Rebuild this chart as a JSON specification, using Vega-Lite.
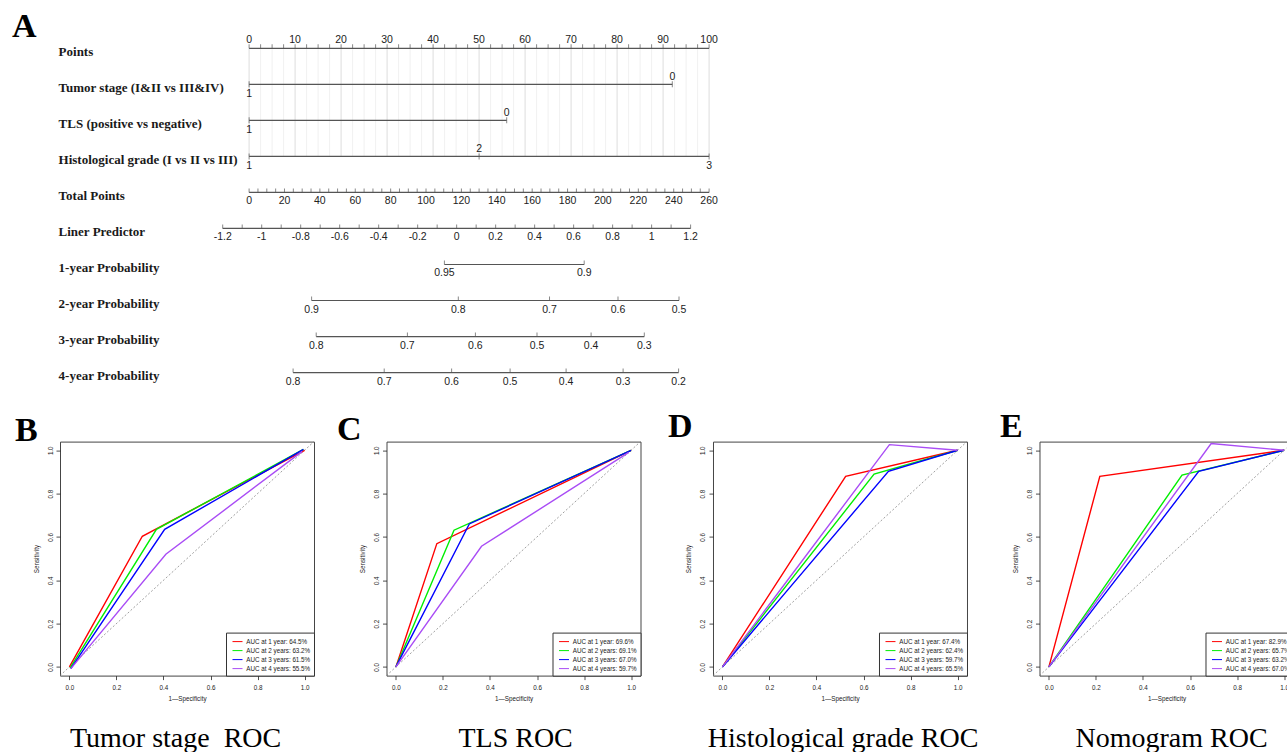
{
  "$schema": "https://vega.github.io/schema/vega-lite/v6.json",
  "background": "white",
  "padding": {"left": 12, "top": 9.3, "right": 0, "bottom": 0},
  "bounds": "flush",
  "spacing": 50.3,
  "config": {"font": "Liberation Sans", "view": {"stroke": null}},
  "resolve": {"scale": {"x": "independent", "y": "independent", "color": "independent"}},
  "datasets": {
    "pointsTicks": [
      {"v": 0, "label": "0"}, {"v": 2.5, "label": ""}, {"v": 5, "label": ""}, {"v": 7.5, "label": ""},
      {"v": 10, "label": "10"}, {"v": 12.5, "label": ""}, {"v": 15, "label": ""}, {"v": 17.5, "label": ""},
      {"v": 20, "label": "20"}, {"v": 22.5, "label": ""}, {"v": 25, "label": ""}, {"v": 27.5, "label": ""},
      {"v": 30, "label": "30"}, {"v": 32.5, "label": ""}, {"v": 35, "label": ""}, {"v": 37.5, "label": ""},
      {"v": 40, "label": "40"}, {"v": 42.5, "label": ""}, {"v": 45, "label": ""}, {"v": 47.5, "label": ""},
      {"v": 50, "label": "50"}, {"v": 52.5, "label": ""}, {"v": 55, "label": ""}, {"v": 57.5, "label": ""},
      {"v": 60, "label": "60"}, {"v": 62.5, "label": ""}, {"v": 65, "label": ""}, {"v": 67.5, "label": ""},
      {"v": 70, "label": "70"}, {"v": 72.5, "label": ""}, {"v": 75, "label": ""}, {"v": 77.5, "label": ""},
      {"v": 80, "label": "80"}, {"v": 82.5, "label": ""}, {"v": 85, "label": ""}, {"v": 87.5, "label": ""},
      {"v": 90, "label": "90"}, {"v": 92.5, "label": ""}, {"v": 95, "label": ""}, {"v": 97.5, "label": ""},
      {"v": 100, "label": "100"}
    ],
    "totalTicks": [
      {"v": 0, "label": "0"}, {"v": 5, "label": ""}, {"v": 10, "label": ""}, {"v": 15, "label": ""},
      {"v": 20, "label": "20"}, {"v": 25, "label": ""}, {"v": 30, "label": ""}, {"v": 35, "label": ""},
      {"v": 40, "label": "40"}, {"v": 45, "label": ""}, {"v": 50, "label": ""}, {"v": 55, "label": ""},
      {"v": 60, "label": "60"}, {"v": 65, "label": ""}, {"v": 70, "label": ""}, {"v": 75, "label": ""},
      {"v": 80, "label": "80"}, {"v": 85, "label": ""}, {"v": 90, "label": ""}, {"v": 95, "label": ""},
      {"v": 100, "label": "100"}, {"v": 105, "label": ""}, {"v": 110, "label": ""}, {"v": 115, "label": ""},
      {"v": 120, "label": "120"}, {"v": 125, "label": ""}, {"v": 130, "label": ""}, {"v": 135, "label": ""},
      {"v": 140, "label": "140"}, {"v": 145, "label": ""}, {"v": 150, "label": ""}, {"v": 155, "label": ""},
      {"v": 160, "label": "160"}, {"v": 165, "label": ""}, {"v": 170, "label": ""}, {"v": 175, "label": ""},
      {"v": 180, "label": "180"}, {"v": 185, "label": ""}, {"v": 190, "label": ""}, {"v": 195, "label": ""},
      {"v": 200, "label": "200"}, {"v": 205, "label": ""}, {"v": 210, "label": ""}, {"v": 215, "label": ""},
      {"v": 220, "label": "220"}, {"v": 225, "label": ""}, {"v": 230, "label": ""}, {"v": 235, "label": ""},
      {"v": 240, "label": "240"}, {"v": 245, "label": ""}, {"v": 250, "label": ""}, {"v": 255, "label": ""},
      {"v": 260, "label": "260"}
    ],
    "lpTicks": [
      {"v": -1.2, "label": "-1.2"}, {"v": -1.1, "label": ""}, {"v": -1.0, "label": "-1"}, {"v": -0.9, "label": ""},
      {"v": -0.8, "label": "-0.8"}, {"v": -0.7, "label": ""}, {"v": -0.6, "label": "-0.6"}, {"v": -0.5, "label": ""},
      {"v": -0.4, "label": "-0.4"}, {"v": -0.3, "label": ""}, {"v": -0.2, "label": "-0.2"}, {"v": -0.1, "label": ""},
      {"v": 0, "label": "0"}, {"v": 0.1, "label": ""}, {"v": 0.2, "label": "0.2"}, {"v": 0.3, "label": ""},
      {"v": 0.4, "label": "0.4"}, {"v": 0.5, "label": ""}, {"v": 0.6, "label": "0.6"}, {"v": 0.7, "label": ""},
      {"v": 0.8, "label": "0.8"}, {"v": 0.9, "label": ""}, {"v": 1.0, "label": "1"}, {"v": 1.1, "label": ""},
      {"v": 1.2, "label": "1.2"}
    ],
    "probTicks": [
      {"row": "1-year Probability", "v": -0.0628, "label": "0.95"},
      {"row": "1-year Probability", "v": 0.6542, "label": "0.9"},
      {"row": "2-year Probability", "v": -0.744, "label": "0.9"},
      {"row": "2-year Probability", "v": 0.0085, "label": "0.8"},
      {"row": "2-year Probability", "v": 0.4763, "label": "0.7"},
      {"row": "2-year Probability", "v": 0.8276, "label": "0.6"},
      {"row": "2-year Probability", "v": 1.1405, "label": "0.5"},
      {"row": "3-year Probability", "v": -0.7204, "label": "0.8"},
      {"row": "3-year Probability", "v": -0.2526, "label": "0.7"},
      {"row": "3-year Probability", "v": 0.0962, "label": "0.6"},
      {"row": "3-year Probability", "v": 0.4121, "label": "0.5"},
      {"row": "3-year Probability", "v": 0.6896, "label": "0.4"},
      {"row": "3-year Probability", "v": 0.9625, "label": "0.3"},
      {"row": "4-year Probability", "v": -0.8389, "label": "0.8"},
      {"row": "4-year Probability", "v": -0.3716, "label": "0.7"},
      {"row": "4-year Probability", "v": -0.0258, "label": "0.6"},
      {"row": "4-year Probability", "v": 0.2742, "label": "0.5"},
      {"row": "4-year Probability", "v": 0.5614, "label": "0.4"},
      {"row": "4-year Probability", "v": 0.8538, "label": "0.3"},
      {"row": "4-year Probability", "v": 1.1384, "label": "0.2"}
    ],
    "levels": [
      {"row": "Tumor stage (I&II vs III&IV)", "v": 92, "label": "0", "side": "above"},
      {"row": "Tumor stage (I&II vs III&IV)", "v": 0, "label": "1", "side": "below"},
      {"row": "TLS (positive vs negative)", "v": 56, "label": "0", "side": "above"},
      {"row": "TLS (positive vs negative)", "v": 0, "label": "1", "side": "below"},
      {"row": "Histological grade (I vs II vs III)", "v": 0, "label": "1", "side": "below"},
      {"row": "Histological grade (I vs II vs III)", "v": 50, "label": "2", "side": "above"},
      {"row": "Histological grade (I vs II vs III)", "v": 100, "label": "3", "side": "below"}
    ],
    "nomoLines": [
      {"row": "Points", "unit": "points", "from": 0, "to": 100},
      {"row": "Tumor stage (I&II vs III&IV)", "unit": "points", "from": 0, "to": 92},
      {"row": "TLS (positive vs negative)", "unit": "points", "from": 0, "to": 56},
      {"row": "Histological grade (I vs II vs III)", "unit": "points", "from": 0, "to": 100},
      {"row": "Total Points", "unit": "total", "from": 0, "to": 260},
      {"row": "Liner Predictor", "unit": "lp", "from": -1.2, "to": 1.2},
      {"row": "1-year Probability", "unit": "lp", "from": -0.0628, "to": 0.6542},
      {"row": "2-year Probability", "unit": "lp", "from": -0.744, "to": 1.1405},
      {"row": "3-year Probability", "unit": "lp", "from": -0.7204, "to": 0.9625},
      {"row": "4-year Probability", "unit": "lp", "from": -0.8389, "to": 1.1384}
    ],
    "roc": [
      {"panel": "B", "series": "AUC at 1 year: 64.5%", "step": 0, "fpr": 0, "tpr": 0},
      {"panel": "B", "series": "AUC at 1 year: 64.5%", "step": 1, "fpr": 0.31, "tpr": 0.603},
      {"panel": "B", "series": "AUC at 1 year: 64.5%", "step": 2, "fpr": 1, "tpr": 1},
      {"panel": "B", "series": "AUC at 2 years: 63.2%", "step": 0, "fpr": 0.003, "tpr": -0.004},
      {"panel": "B", "series": "AUC at 2 years: 63.2%", "step": 1, "fpr": 0.37, "tpr": 0.635},
      {"panel": "B", "series": "AUC at 2 years: 63.2%", "step": 2, "fpr": 0.995, "tpr": 1.004},
      {"panel": "B", "series": "AUC at 3 years: 61.5%", "step": 0, "fpr": 0.006, "tpr": -0.008},
      {"panel": "B", "series": "AUC at 3 years: 61.5%", "step": 1, "fpr": 0.405, "tpr": 0.635},
      {"panel": "B", "series": "AUC at 3 years: 61.5%", "step": 2, "fpr": 0.995, "tpr": 1.004},
      {"panel": "B", "series": "AUC at 4 years: 55.5%", "step": 0, "fpr": 0.006, "tpr": -0.008},
      {"panel": "B", "series": "AUC at 4 years: 55.5%", "step": 1, "fpr": 0.41, "tpr": 0.52},
      {"panel": "B", "series": "AUC at 4 years: 55.5%", "step": 2, "fpr": 0.99, "tpr": 0.995},
      {"panel": "C", "series": "AUC at 1 year: 69.6%", "step": 0, "fpr": 0, "tpr": 0},
      {"panel": "C", "series": "AUC at 1 year: 69.6%", "step": 1, "fpr": 0.174, "tpr": 0.569},
      {"panel": "C", "series": "AUC at 1 year: 69.6%", "step": 2, "fpr": 1, "tpr": 1},
      {"panel": "C", "series": "AUC at 2 years: 69.1%", "step": 0, "fpr": 0, "tpr": 0},
      {"panel": "C", "series": "AUC at 2 years: 69.1%", "step": 1, "fpr": 0.247, "tpr": 0.631},
      {"panel": "C", "series": "AUC at 2 years: 69.1%", "step": 2, "fpr": 1, "tpr": 1},
      {"panel": "C", "series": "AUC at 3 years: 67.0%", "step": 0, "fpr": 0, "tpr": 0},
      {"panel": "C", "series": "AUC at 3 years: 67.0%", "step": 1, "fpr": 0.312, "tpr": 0.66},
      {"panel": "C", "series": "AUC at 3 years: 67.0%", "step": 2, "fpr": 1, "tpr": 1},
      {"panel": "C", "series": "AUC at 4 years: 59.7%", "step": 0, "fpr": 0, "tpr": 0},
      {"panel": "C", "series": "AUC at 4 years: 59.7%", "step": 1, "fpr": 0.364, "tpr": 0.557},
      {"panel": "C", "series": "AUC at 4 years: 59.7%", "step": 2, "fpr": 0.99, "tpr": 0.99},
      {"panel": "D", "series": "AUC at 1 year: 67.4%", "step": 0, "fpr": 0, "tpr": 0},
      {"panel": "D", "series": "AUC at 1 year: 67.4%", "step": 1, "fpr": 0.524, "tpr": 0.88},
      {"panel": "D", "series": "AUC at 1 year: 67.4%", "step": 2, "fpr": 1, "tpr": 1},
      {"panel": "D", "series": "AUC at 2 years: 62.4%", "step": 0, "fpr": 0, "tpr": 0},
      {"panel": "D", "series": "AUC at 2 years: 62.4%", "step": 1, "fpr": 0.645, "tpr": 0.89},
      {"panel": "D", "series": "AUC at 2 years: 62.4%", "step": 2, "fpr": 1, "tpr": 1},
      {"panel": "D", "series": "AUC at 3 years: 59.7%", "step": 0, "fpr": 0, "tpr": 0},
      {"panel": "D", "series": "AUC at 3 years: 59.7%", "step": 1, "fpr": 0.706, "tpr": 0.903},
      {"panel": "D", "series": "AUC at 3 years: 59.7%", "step": 2, "fpr": 1, "tpr": 1},
      {"panel": "D", "series": "AUC at 4 years: 65.5%", "step": 0, "fpr": 0, "tpr": 0},
      {"panel": "D", "series": "AUC at 4 years: 65.5%", "step": 1, "fpr": 0.71, "tpr": 1.026},
      {"panel": "D", "series": "AUC at 4 years: 65.5%", "step": 2, "fpr": 1, "tpr": 1},
      {"panel": "E", "series": "AUC at 1 year: 82.9%", "step": 0, "fpr": 0, "tpr": 0},
      {"panel": "E", "series": "AUC at 1 year: 82.9%", "step": 1, "fpr": 0.2165, "tpr": 0.88},
      {"panel": "E", "series": "AUC at 1 year: 82.9%", "step": 2, "fpr": 1, "tpr": 1},
      {"panel": "E", "series": "AUC at 2 years: 65.7%", "step": 0, "fpr": 0, "tpr": 0},
      {"panel": "E", "series": "AUC at 2 years: 65.7%", "step": 1, "fpr": 0.566, "tpr": 0.885},
      {"panel": "E", "series": "AUC at 2 years: 65.7%", "step": 2, "fpr": 1, "tpr": 1},
      {"panel": "E", "series": "AUC at 3 years: 63.2%", "step": 0, "fpr": 0, "tpr": 0},
      {"panel": "E", "series": "AUC at 3 years: 63.2%", "step": 1, "fpr": 0.637, "tpr": 0.903},
      {"panel": "E", "series": "AUC at 3 years: 63.2%", "step": 2, "fpr": 1, "tpr": 1},
      {"panel": "E", "series": "AUC at 4 years: 67.0%", "step": 0, "fpr": 0, "tpr": 0},
      {"panel": "E", "series": "AUC at 4 years: 67.0%", "step": 1, "fpr": 0.69, "tpr": 1.031},
      {"panel": "E", "series": "AUC at 4 years: 67.0%", "step": 2, "fpr": 1, "tpr": 1}
    ],
    "captions": [
      {"panel": "B", "caption": "Tumor stage\u00a0 ROC"},
      {"panel": "C", "caption": "TLS ROC"},
      {"panel": "D", "caption": "Histological grade ROC"},
      {"panel": "E", "caption": "Nomogram ROC"}
    ],
    "chance": [{"ref": "chance line"}]
  },
  "vconcat": [
    {
      "width": 660.1,
      "height": 360.3,
      "view": {"stroke": null},
      "title": {"text": "A", "anchor": "start", "frame": "group", "dx": -47.9, "offset": -40.4, "baseline": "alphabetic", "font": "Liberation Serif", "fontSize": 34, "fontWeight": "bold", "color": "#000"},
      "resolve": {"scale": {"x": "independent"}},
      "layer": [
        {
          "data": {"name": "pointsTicks"},
          "mark": {"type": "rule", "strokeWidth": 0.8},
          "encoding": {
            "x": {"field": "v", "type": "quantitative", "scale": {"domain": [-41.109, 102.391], "nice": false, "zero": false}, "axis": null},
            "y": {"datum": "Points", "type": "nominal"},
            "y2": {"datum": "Histological grade (I vs II vs III)"},
            "stroke": {"condition": {"test": "datum.label != ''", "value": "#d4d4d4"}, "value": "#ececec"}
          }
        },
        {
          "data": {"name": "nomoLines"},
          "transform": [{"filter": "datum.unit == 'points'"}],
          "mark": {"type": "rule", "color": "#555", "strokeWidth": 1.2},
          "encoding": {
            "x": {"field": "from", "type": "quantitative", "scale": {"domain": [-41.109, 102.391], "nice": false, "zero": false}, "axis": null},
            "x2": {"field": "to"},
            "y": {
              "field": "row", "type": "nominal", "title": null,
              "scale": {"type": "point", "padding": 0.5, "domain": ["Points", "Tumor stage (I&II vs III&IV)", "TLS (positive vs negative)", "Histological grade (I vs II vs III)", "Total Points", "Liner Predictor", "1-year Probability", "2-year Probability", "3-year Probability", "4-year Probability"]},
              "axis": {"title": null, "ticks": false, "domain": false, "grid": false, "labelAlign": "left", "labelBaseline": "middle", "labelPadding": 1.9, "labelOffset": 3, "labelFont": "Liberation Serif", "labelFontWeight": "bold", "labelFontSize": 13, "labelColor": "#1a1a1a", "labelLimit": 400}
            }
          }
        },
        {
          "data": {"name": "pointsTicks"},
          "mark": {"type": "tick", "color": "#555", "thickness": 1, "size": 4, "yOffset": -2},
          "encoding": {
            "x": {"field": "v", "type": "quantitative", "scale": {"domain": [-41.109, 102.391], "nice": false, "zero": false}, "axis": null},
            "y": {"datum": "Points", "type": "nominal"}
          }
        },
        {
          "data": {"name": "pointsTicks"},
          "transform": [{"filter": "datum.label != ''"}],
          "mark": {"type": "text", "font": "Liberation Sans", "fontSize": 10.5, "color": "#222", "baseline": "middle", "dy": -8.7},
          "encoding": {
            "x": {"field": "v", "type": "quantitative", "scale": {"domain": [-41.109, 102.391], "nice": false, "zero": false}, "axis": null},
            "y": {"datum": "Points", "type": "nominal"},
            "text": {"field": "label"}
          }
        },
        {
          "data": {"name": "levels"},
          "mark": {"type": "tick", "color": "#555", "thickness": 1, "size": 6},
          "encoding": {
            "x": {"field": "v", "type": "quantitative", "scale": {"domain": [-41.109, 102.391], "nice": false, "zero": false}, "axis": null},
            "y": {"field": "row", "type": "nominal", "title": null}
          }
        },
        {
          "data": {"name": "levels"},
          "transform": [{"filter": "datum.side == 'above'"}],
          "mark": {"type": "text", "font": "Liberation Sans", "fontSize": 10.5, "color": "#222", "baseline": "middle", "dy": -7.6},
          "encoding": {
            "x": {"field": "v", "type": "quantitative", "scale": {"domain": [-41.109, 102.391], "nice": false, "zero": false}, "axis": null},
            "y": {"field": "row", "type": "nominal", "title": null},
            "text": {"field": "label"}
          }
        },
        {
          "data": {"name": "levels"},
          "transform": [{"filter": "datum.side == 'below'"}],
          "mark": {"type": "text", "font": "Liberation Sans", "fontSize": 10.5, "color": "#222", "baseline": "middle", "dy": 9.5},
          "encoding": {
            "x": {"field": "v", "type": "quantitative", "scale": {"domain": [-41.109, 102.391], "nice": false, "zero": false}, "axis": null},
            "y": {"field": "row", "type": "nominal", "title": null},
            "text": {"field": "label"}
          }
        },
        {
          "data": {"name": "nomoLines"},
          "transform": [{"filter": "datum.unit == 'total'"}],
          "mark": {"type": "rule", "color": "#555", "strokeWidth": 1.2},
          "encoding": {
            "x": {"field": "from", "type": "quantitative", "scale": {"domain": [-106.883, 266.217], "nice": false, "zero": false}, "axis": null},
            "x2": {"field": "to"},
            "y": {"field": "row", "type": "nominal", "title": null}
          }
        },
        {
          "data": {"name": "totalTicks"},
          "mark": {"type": "tick", "color": "#555", "thickness": 1, "size": 4, "yOffset": -2},
          "encoding": {
            "x": {"field": "v", "type": "quantitative", "scale": {"domain": [-106.883, 266.217], "nice": false, "zero": false}, "axis": null},
            "y": {"datum": "Total Points", "type": "nominal"}
          }
        },
        {
          "data": {"name": "totalTicks"},
          "transform": [{"filter": "datum.label != ''"}],
          "mark": {"type": "text", "font": "Liberation Sans", "fontSize": 10.5, "color": "#222", "baseline": "middle", "dy": 9},
          "encoding": {
            "x": {"field": "v", "type": "quantitative", "scale": {"domain": [-106.883, 266.217], "nice": false, "zero": false}, "axis": null},
            "y": {"datum": "Total Points", "type": "nominal"},
            "text": {"field": "label"}
          }
        },
        {
          "data": {"name": "nomoLines"},
          "transform": [{"filter": "datum.unit == 'lp'"}],
          "mark": {"type": "rule", "color": "#555", "strokeWidth": 1.2},
          "encoding": {
            "x": {"field": "from", "type": "quantitative", "scale": {"domain": [-2.0345, 1.3513], "nice": false, "zero": false}, "axis": null},
            "x2": {"field": "to"},
            "y": {"field": "row", "type": "nominal", "title": null}
          }
        },
        {
          "data": {"name": "lpTicks"},
          "mark": {"type": "tick", "color": "#555", "thickness": 1, "size": 4, "yOffset": -2},
          "encoding": {
            "x": {"field": "v", "type": "quantitative", "scale": {"domain": [-2.0345, 1.3513], "nice": false, "zero": false}, "axis": null},
            "y": {"datum": "Liner Predictor", "type": "nominal"}
          }
        },
        {
          "data": {"name": "lpTicks"},
          "transform": [{"filter": "datum.label != ''"}],
          "mark": {"type": "text", "font": "Liberation Sans", "fontSize": 10.5, "color": "#222", "baseline": "middle", "dy": 9},
          "encoding": {
            "x": {"field": "v", "type": "quantitative", "scale": {"domain": [-2.0345, 1.3513], "nice": false, "zero": false}, "axis": null},
            "y": {"datum": "Liner Predictor", "type": "nominal"},
            "text": {"field": "label"}
          }
        },
        {
          "data": {"name": "probTicks"},
          "mark": {"type": "tick", "color": "#555", "thickness": 1, "size": 4, "yOffset": -2},
          "encoding": {
            "x": {"field": "v", "type": "quantitative", "scale": {"domain": [-2.0345, 1.3513], "nice": false, "zero": false}, "axis": null},
            "y": {"field": "row", "type": "nominal", "title": null}
          }
        },
        {
          "data": {"name": "probTicks"},
          "mark": {"type": "text", "font": "Liberation Sans", "fontSize": 10.5, "color": "#222", "baseline": "middle", "dy": 9},
          "encoding": {
            "x": {"field": "v", "type": "quantitative", "scale": {"domain": [-2.0345, 1.3513], "nice": false, "zero": false}, "axis": null},
            "y": {"field": "row", "type": "nominal", "title": null},
            "text": {"field": "label"}
          }
        }
      ]
    },
    {
      "hconcat": [
        {
          "width": 254, "height": 234,
          "view": {"stroke": "#444", "strokeWidth": 1},
          "title": {"text": "B", "anchor": "start", "frame": "group", "dx": -44.9, "offset": -34.3, "baseline": "alphabetic", "font": "Liberation Serif", "fontSize": 34, "fontWeight": "bold", "color": "#000"},
          "layer": [
            {
              "data": {"name": "chance"},
              "mark": {"type": "rule", "strokeDash": [2, 2], "color": "#888", "strokeWidth": 0.8},
              "encoding": {"x": {"datum": -0.04, "type": "quantitative"}, "y": {"datum": -0.04, "type": "quantitative"}, "x2": {"datum": 1.04}, "y2": {"datum": 1.04}}
            },
            {
              "data": {"name": "roc"},
              "transform": [{"filter": "datum.panel == 'B'"}],
              "mark": {"type": "line", "strokeWidth": 1.4},
              "encoding": {
                "x": {"field": "fpr", "type": "quantitative", "scale": {"domain": [-0.04, 1.04], "nice": false, "zero": false},
                  "axis": {"values": [0, 0.2, 0.4, 0.6, 0.8, 1], "format": ".1f", "domain": false, "grid": false, "labelFlush": false, "tickSize": 4, "tickColor": "#222", "tickWidth": 0.8, "labelFont": "Liberation Sans", "labelFontSize": 6.3, "labelColor": "#222", "labelPadding": 5, "title": "1—Specificity", "titleFont": "Liberation Sans", "titleFontSize": 6.3, "titleFontWeight": "normal", "titleColor": "#222", "titlePadding": 5}},
                "y": {"field": "tpr", "type": "quantitative", "scale": {"domain": [-0.04, 1.04], "nice": false, "zero": false},
                  "axis": {"values": [0, 0.2, 0.4, 0.6, 0.8, 1], "format": ".1f", "domain": false, "grid": false, "labelFlush": false, "tickSize": 4, "tickColor": "#222", "tickWidth": 0.8, "labelFont": "Liberation Sans", "labelFontSize": 6.3, "labelColor": "#222", "labelPadding": 3, "labelAngle": 270, "labelAlign": "center", "labelBaseline": "bottom", "title": "Sensitivity", "titleFont": "Liberation Sans", "titleFontSize": 6.3, "titleFontWeight": "normal", "titleColor": "#222", "titlePadding": 8}},
                "color": {"field": "series", "type": "nominal", "scale": {"range": ["#FF0000", "#00EE00", "#0000FF", "#A94CF5"]},
                  "legend": {"title": null, "orient": "bottom-right", "offset": 0, "padding": 3.5, "strokeColor": "#333", "fillColor": "white", "symbolType": "stroke", "symbolSize": 100, "symbolStrokeWidth": 1, "labelFont": "Liberation Sans", "labelFontSize": 6.3, "labelColor": "#222", "rowPadding": -2.9, "labelOffset": 3.3, "symbolOffset": 2.5, "cornerRadius": 0}},
                "order": {"field": "step", "type": "quantitative"}
              }
            },
            {
              "data": {"name": "captions"},
              "transform": [{"filter": "datum.panel == 'B'"}],
              "mark": {"type": "text", "font": "Liberation Serif", "fontSize": 28, "baseline": "alphabetic", "align": "center", "color": "#000"},
              "encoding": {"x": {"datum": 0.4515, "type": "quantitative"}, "y": {"datum": -0.369, "type": "quantitative"}, "text": {"field": "caption"}}
            }
          ]
        },
        {
          "width": 254, "height": 234,
          "view": {"stroke": "#444", "strokeWidth": 1},
          "title": {"text": "C", "anchor": "start", "frame": "group", "dx": -49.4, "offset": -32.7, "baseline": "alphabetic", "font": "Liberation Serif", "fontSize": 34, "fontWeight": "bold", "color": "#000"},
          "layer": [
            {
              "data": {"name": "chance"},
              "mark": {"type": "rule", "strokeDash": [2, 2], "color": "#888", "strokeWidth": 0.8},
              "encoding": {"x": {"datum": -0.04, "type": "quantitative"}, "y": {"datum": -0.04, "type": "quantitative"}, "x2": {"datum": 1.04}, "y2": {"datum": 1.04}}
            },
            {
              "data": {"name": "roc"},
              "transform": [{"filter": "datum.panel == 'C'"}],
              "mark": {"type": "line", "strokeWidth": 1.4},
              "encoding": {
                "x": {"field": "fpr", "type": "quantitative", "scale": {"domain": [-0.04, 1.04], "nice": false, "zero": false},
                  "axis": {"values": [0, 0.2, 0.4, 0.6, 0.8, 1], "format": ".1f", "domain": false, "grid": false, "labelFlush": false, "tickSize": 4, "tickColor": "#222", "tickWidth": 0.8, "labelFont": "Liberation Sans", "labelFontSize": 6.3, "labelColor": "#222", "labelPadding": 5, "title": "1—Specificity", "titleFont": "Liberation Sans", "titleFontSize": 6.3, "titleFontWeight": "normal", "titleColor": "#222", "titlePadding": 5}},
                "y": {"field": "tpr", "type": "quantitative", "scale": {"domain": [-0.04, 1.04], "nice": false, "zero": false},
                  "axis": {"values": [0, 0.2, 0.4, 0.6, 0.8, 1], "format": ".1f", "domain": false, "grid": false, "labelFlush": false, "tickSize": 4, "tickColor": "#222", "tickWidth": 0.8, "labelFont": "Liberation Sans", "labelFontSize": 6.3, "labelColor": "#222", "labelPadding": 3, "labelAngle": 270, "labelAlign": "center", "labelBaseline": "bottom", "title": "Sensitivity", "titleFont": "Liberation Sans", "titleFontSize": 6.3, "titleFontWeight": "normal", "titleColor": "#222", "titlePadding": 8}},
                "color": {"field": "series", "type": "nominal", "scale": {"range": ["#FF0000", "#00EE00", "#0000FF", "#A94CF5"]},
                  "legend": {"title": null, "orient": "bottom-right", "offset": 0, "padding": 3.5, "strokeColor": "#333", "fillColor": "white", "symbolType": "stroke", "symbolSize": 100, "symbolStrokeWidth": 1, "labelFont": "Liberation Sans", "labelFontSize": 6.3, "labelColor": "#222", "rowPadding": -2.9, "labelOffset": 3.3, "symbolOffset": 2.5, "cornerRadius": 0}},
                "order": {"field": "step", "type": "quantitative"}
              }
            },
            {
              "data": {"name": "captions"},
              "transform": [{"filter": "datum.panel == 'C'"}],
              "mark": {"type": "text", "font": "Liberation Serif", "fontSize": 28, "baseline": "alphabetic", "align": "center", "color": "#000"},
              "encoding": {"x": {"datum": 0.509, "type": "quantitative"}, "y": {"datum": -0.369, "type": "quantitative"}, "text": {"field": "caption"}}
            }
          ]
        },
        {
          "width": 254, "height": 234,
          "view": {"stroke": "#444", "strokeWidth": 1},
          "title": {"text": "D", "anchor": "start", "frame": "group", "dx": -44.9, "offset": -30.3, "baseline": "alphabetic", "font": "Liberation Serif", "fontSize": 34, "fontWeight": "bold", "color": "#000"},
          "layer": [
            {
              "data": {"name": "chance"},
              "mark": {"type": "rule", "strokeDash": [2, 2], "color": "#888", "strokeWidth": 0.8},
              "encoding": {"x": {"datum": -0.04, "type": "quantitative"}, "y": {"datum": -0.04, "type": "quantitative"}, "x2": {"datum": 1.04}, "y2": {"datum": 1.04}}
            },
            {
              "data": {"name": "roc"},
              "transform": [{"filter": "datum.panel == 'D'"}],
              "mark": {"type": "line", "strokeWidth": 1.4},
              "encoding": {
                "x": {"field": "fpr", "type": "quantitative", "scale": {"domain": [-0.04, 1.04], "nice": false, "zero": false},
                  "axis": {"values": [0, 0.2, 0.4, 0.6, 0.8, 1], "format": ".1f", "domain": false, "grid": false, "labelFlush": false, "tickSize": 4, "tickColor": "#222", "tickWidth": 0.8, "labelFont": "Liberation Sans", "labelFontSize": 6.3, "labelColor": "#222", "labelPadding": 5, "title": "1—Specificity", "titleFont": "Liberation Sans", "titleFontSize": 6.3, "titleFontWeight": "normal", "titleColor": "#222", "titlePadding": 5}},
                "y": {"field": "tpr", "type": "quantitative", "scale": {"domain": [-0.04, 1.04], "nice": false, "zero": false},
                  "axis": {"values": [0, 0.2, 0.4, 0.6, 0.8, 1], "format": ".1f", "domain": false, "grid": false, "labelFlush": false, "tickSize": 4, "tickColor": "#222", "tickWidth": 0.8, "labelFont": "Liberation Sans", "labelFontSize": 6.3, "labelColor": "#222", "labelPadding": 3, "labelAngle": 270, "labelAlign": "center", "labelBaseline": "bottom", "title": "Sensitivity", "titleFont": "Liberation Sans", "titleFontSize": 6.3, "titleFontWeight": "normal", "titleColor": "#222", "titlePadding": 8}},
                "color": {"field": "series", "type": "nominal", "scale": {"range": ["#FF0000", "#00EE00", "#0000FF", "#A94CF5"]},
                  "legend": {"title": null, "orient": "bottom-right", "offset": 0, "padding": 3.5, "strokeColor": "#333", "fillColor": "white", "symbolType": "stroke", "symbolSize": 100, "symbolStrokeWidth": 1, "labelFont": "Liberation Sans", "labelFontSize": 6.3, "labelColor": "#222", "rowPadding": -2.9, "labelOffset": 3.3, "symbolOffset": 2.5, "cornerRadius": 0}},
                "order": {"field": "step", "type": "quantitative"}
              }
            },
            {
              "data": {"name": "captions"},
              "transform": [{"filter": "datum.panel == 'D'"}],
              "mark": {"type": "text", "font": "Liberation Serif", "fontSize": 28, "baseline": "alphabetic", "align": "center", "color": "#000"},
              "encoding": {"x": {"datum": 0.513, "type": "quantitative"}, "y": {"datum": -0.369, "type": "quantitative"}, "text": {"field": "caption"}}
            }
          ]
        },
        {
          "width": 254, "height": 234,
          "view": {"stroke": "#444", "strokeWidth": 1},
          "title": {"text": "E", "anchor": "start", "frame": "group", "dx": -39.4, "offset": -30.3, "baseline": "alphabetic", "font": "Liberation Serif", "fontSize": 34, "fontWeight": "bold", "color": "#000"},
          "layer": [
            {
              "data": {"name": "chance"},
              "mark": {"type": "rule", "strokeDash": [2, 2], "color": "#888", "strokeWidth": 0.8},
              "encoding": {"x": {"datum": -0.04, "type": "quantitative"}, "y": {"datum": -0.04, "type": "quantitative"}, "x2": {"datum": 1.04}, "y2": {"datum": 1.04}}
            },
            {
              "data": {"name": "roc"},
              "transform": [{"filter": "datum.panel == 'E'"}],
              "mark": {"type": "line", "strokeWidth": 1.4},
              "encoding": {
                "x": {"field": "fpr", "type": "quantitative", "scale": {"domain": [-0.04, 1.04], "nice": false, "zero": false},
                  "axis": {"values": [0, 0.2, 0.4, 0.6, 0.8, 1], "format": ".1f", "domain": false, "grid": false, "labelFlush": false, "tickSize": 4, "tickColor": "#222", "tickWidth": 0.8, "labelFont": "Liberation Sans", "labelFontSize": 6.3, "labelColor": "#222", "labelPadding": 5, "title": "1—Specificity", "titleFont": "Liberation Sans", "titleFontSize": 6.3, "titleFontWeight": "normal", "titleColor": "#222", "titlePadding": 5}},
                "y": {"field": "tpr", "type": "quantitative", "scale": {"domain": [-0.04, 1.04], "nice": false, "zero": false},
                  "axis": {"values": [0, 0.2, 0.4, 0.6, 0.8, 1], "format": ".1f", "domain": false, "grid": false, "labelFlush": false, "tickSize": 4, "tickColor": "#222", "tickWidth": 0.8, "labelFont": "Liberation Sans", "labelFontSize": 6.3, "labelColor": "#222", "labelPadding": 3, "labelAngle": 270, "labelAlign": "center", "labelBaseline": "bottom", "title": "Sensitivity", "titleFont": "Liberation Sans", "titleFontSize": 6.3, "titleFontWeight": "normal", "titleColor": "#222", "titlePadding": 8}},
                "color": {"field": "series", "type": "nominal", "scale": {"range": ["#FF0000", "#00EE00", "#0000FF", "#A94CF5"]},
                  "legend": {"title": null, "orient": "bottom-right", "offset": 0, "padding": 3.5, "strokeColor": "#333", "fillColor": "white", "symbolType": "stroke", "symbolSize": 100, "symbolStrokeWidth": 1, "labelFont": "Liberation Sans", "labelFontSize": 6.3, "labelColor": "#222", "rowPadding": -2.9, "labelOffset": 3.3, "symbolOffset": 2.5, "cornerRadius": 0}},
                "order": {"field": "step", "type": "quantitative"}
              }
            },
            {
              "data": {"name": "captions"},
              "transform": [{"filter": "datum.panel == 'E'"}],
              "mark": {"type": "text", "font": "Liberation Serif", "fontSize": 28, "baseline": "alphabetic", "align": "center", "color": "#000"},
              "encoding": {"x": {"datum": 0.5217, "type": "quantitative"}, "y": {"datum": -0.369, "type": "quantitative"}, "text": {"field": "caption"}}
            }
          ]
        }
      ],
      "spacing": 72.5,
      "bounds": "flush",
      "resolve": {"scale": {"x": "independent", "y": "independent", "color": "independent"}, "legend": {"color": "independent"}}
    }
  ]
}
